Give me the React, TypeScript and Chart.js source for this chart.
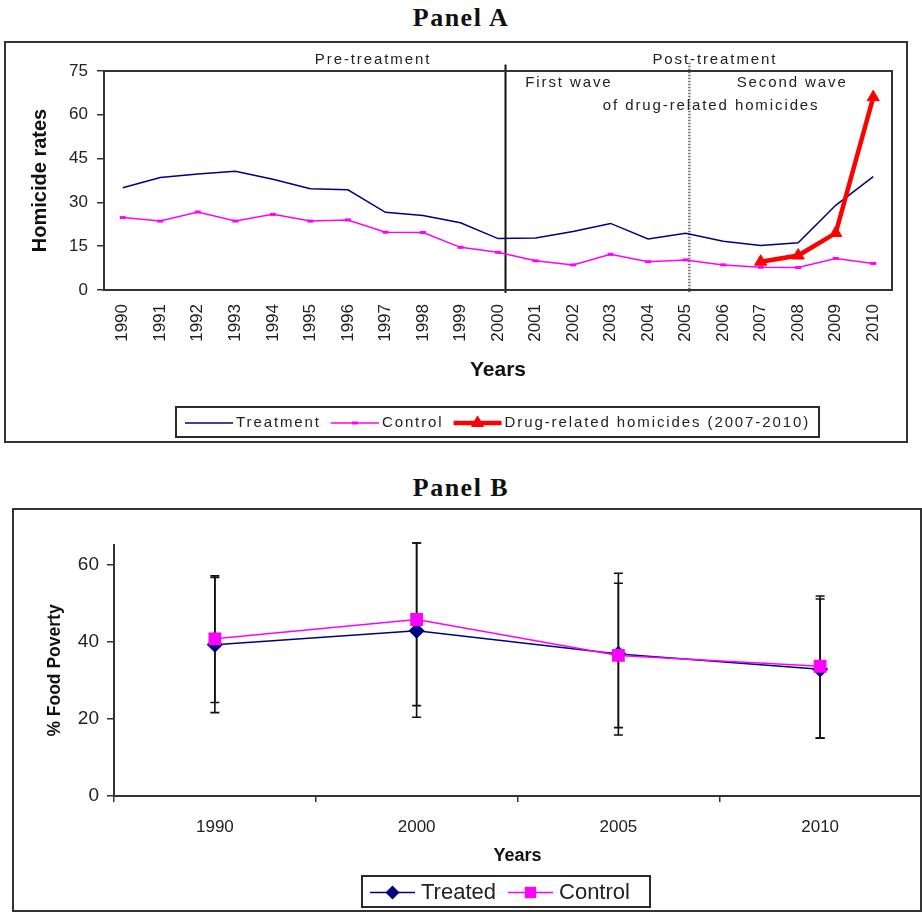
import React, { useEffect, useRef } from 'react';
import { Chart, registerables } from 'chart.js';

Chart.register(...registerables);

const SANS = '"Liberation Sans", Arial, sans-serif';
const SERIF = '"Liberation Serif", "Times New Roman", serif';
const INK = '#222';

// ---------- Panel A: homicide rates ----------
const yearsA = [
  '1990', '1991', '1992', '1993', '1994', '1995', '1996', '1997', '1998', '1999', '2000',
  '2001', '2002', '2003', '2004', '2005', '2006', '2007', '2008', '2009', '2010',
];
const treatmentRates = [
  35.0, 38.5, 39.7, 40.7, 37.9, 34.7, 34.3, 26.6, 25.5, 23.0, 17.6,
  17.8, 20.0, 22.8, 17.5, 19.4, 16.7, 15.2, 16.2, 29.0, 38.8,
];
const controlRates = [
  24.8, 23.6, 26.7, 23.6, 25.9, 23.6, 24.0, 19.8, 19.7, 14.6, 12.9,
  10.0, 8.6, 12.2, 9.7, 10.3, 8.6, 7.8, 7.7, 10.8, 9.1,
];
const drugRelatedRates: (number | null)[] = [
  null, null, null, null, null, null, null, null, null, null, null,
  null, null, null, null, null, null, 9.7, 11.8, 19.5, 66.0,
];
const homicideTicks = [0, 15, 30, 45, 60, 75];

// period labels and where the treatment / wave boundaries fall (category index)
const periodNotes = ['Pre-treatment', 'Post-treatment', 'First wave', 'Second wave', 'of drug-related homicides'];
const treatmentStart = 10.2;
const secondWaveStart = 15.1;

// ---------- Panel B: food poverty ----------
const censusYears = ['1990', '2000', '2005', '2010'];
const treatedPoverty = [39.2, 42.8, 36.8, 32.8];
const treatedLow = [21.6, 20.4, 15.8, 15.0];
const treatedHigh = [56.6, 65.5, 57.7, 51.8];
const controlPoverty = [40.7, 45.7, 36.4, 33.6];
const controlLow = [24.2, 23.4, 17.7, 15.0];
const controlHigh = [57.0, 65.5, 55.1, 51.0];
const povertyTicks = [0, 20, 40, 60];

// ---------- drawing helpers ----------
function drawMarker(ctx: CanvasRenderingContext2D, style: string, x: number, y: number, r: number, color: string, lw: number) {
  if (!r) return;
  ctx.save();
  ctx.fillStyle = color;
  ctx.strokeStyle = color;
  ctx.lineWidth = lw;
  ctx.beginPath();
  if (style === 'triangle') {
    ctx.moveTo(x, y - r);
    ctx.lineTo(x + r * 0.866, y + r * 0.5);
    ctx.lineTo(x - r * 0.866, y + r * 0.5);
    ctx.closePath();
    ctx.fill();
    ctx.stroke();
  } else if (style === 'rectRot') {
    ctx.moveTo(x, y - r);
    ctx.lineTo(x + r, y);
    ctx.lineTo(x, y + r);
    ctx.lineTo(x - r, y);
    ctx.closePath();
    ctx.fill();
  } else if (style === 'rect') {
    const s = r * Math.SQRT1_2;
    ctx.rect(x - s, y - s, 2 * s, 2 * s);
    ctx.fill();
  } else if (style === 'line') {
    ctx.moveTo(x - r, y);
    ctx.lineTo(x + r, y);
    ctx.stroke();
  }
  ctx.restore();
}

type LegendBox = { x: number; y: number; w: number; h: number; font: string; spacing: string; pad: number; sample: number; textGap: number; itemGap: number };

function drawBoxLegend(chart: Chart, box: LegendBox) {
  const ctx = chart.ctx;
  ctx.save();
  ctx.lineWidth = 2;
  ctx.strokeStyle = '#2a2a2a';
  ctx.strokeRect(box.x, box.y, box.w, box.h);
  ctx.font = box.font;
  (ctx as any).letterSpacing = box.spacing;
  ctx.textBaseline = 'middle';
  ctx.textAlign = 'left';
  const cy = box.y + box.h / 2 + 1;
  let cx = box.x + box.pad;
  chart.data.datasets.forEach((ds: any) => {
    ctx.strokeStyle = ds.borderColor;
    ctx.lineWidth = ds.borderWidth;
    ctx.beginPath();
    ctx.moveTo(cx, cy);
    ctx.lineTo(cx + box.sample, cy);
    ctx.stroke();
    drawMarker(ctx, ds.pointStyle, cx + box.sample / 2, cy, ds.pointRadius, ds.pointBorderColor || ds.borderColor, ds.pointBorderWidth || 1);
    cx += box.sample + box.textGap;
    ctx.fillStyle = INK;
    ctx.fillText(ds.label, cx, cy);
    cx += ctx.measureText(ds.label).width + box.itemGap;
  });
  ctx.restore();
}

function drawFrame(chart: Chart) {
  const ctx = chart.ctx;
  ctx.save();
  ctx.lineWidth = 2;
  ctx.strokeStyle = '#333';
  ctx.strokeRect(1, 1, chart.width - 2, chart.height - 2);
  ctx.restore();
}

// keep the category axis spanning the full chart area
const noSidePadding = (s: any, height: number) => {
  s.height = height;
  s.paddingLeft = 0;
  s.paddingRight = 0;
};

// ---------- Panel A plugin: frame, plot box, boundaries, notes, legend ----------
const homicidePlugin = {
  id: 'homicideDecor',
  beforeDatasetsDraw(chart: Chart) {
    const { ctx } = chart;
    const x = chart.scales.x;
    const y = chart.scales.y;
    const top = y.getPixelForValue(77.2);
    const bottom = y.getPixelForValue(-1);
    ctx.save();
    const xs = x.getPixelForValue(treatmentStart);
    ctx.strokeStyle = '#111';
    ctx.lineWidth = 2;
    ctx.beginPath();
    ctx.moveTo(xs, top);
    ctx.lineTo(xs, bottom);
    ctx.stroke();
    const xd = x.getPixelForValue(secondWaveStart);
    ctx.strokeStyle = '#777';
    ctx.lineWidth = 2.5;
    ctx.setLineDash([1.5, 1.5]);
    ctx.beginPath();
    ctx.moveTo(xd, y.getPixelForValue(77.8));
    ctx.lineTo(xd, bottom);
    ctx.stroke();
    ctx.restore();
  },
  afterDraw(chart: Chart) {
    const { ctx, chartArea } = chart;
    const x = chart.scales.x;
    const y = chart.scales.y;
    drawFrame(chart);
    ctx.save();
    ctx.lineWidth = 2;
    ctx.strokeStyle = '#333';
    ctx.strokeRect(chartArea.left, chartArea.top, chartArea.right - chartArea.left, chartArea.bottom - chartArea.top);

    ctx.font = `15px ${SANS}`;
    (ctx as any).letterSpacing = '1.9px';
    ctx.fillStyle = INK;
    ctx.textAlign = 'center';
    ctx.textBaseline = 'middle';
    const notePlaces: [number, number][] = [[6.67, 78.8], [15.78, 78.8], [11.89, 70.9], [17.84, 70.9], [15.68, 63.0]];
    periodNotes.forEach((t, i) => {
      const [ci, v] = notePlaces[i];
      ctx.fillText(t, x.getPixelForValue(ci), y.getPixelForValue(v));
    });
    ctx.restore();

    drawBoxLegend(chart, {
      x: 172, y: 366, w: 643, h: 30, font: `15px ${SANS}`, spacing: '1.9px',
      pad: 9, sample: 48, textGap: 3, itemGap: 10,
    });
  },
};

// ---------- Panel B plugin: frame, error bars, legend ----------
const povertyBars = [[treatedLow, treatedHigh], [controlLow, controlHigh]];
const povertyPlugin = {
  id: 'povertyDecor',
  beforeDatasetsDraw(chart: Chart) {
    const { ctx } = chart;
    const x = chart.scales.x;
    const y = chart.scales.y;
    ctx.save();
    ctx.strokeStyle = '#111';
    ctx.lineWidth = 1.6;
    povertyBars.forEach(([lo, hi]) => {
      lo.forEach((l, i) => {
        const px = x.getPixelForValue(i);
        const pl = y.getPixelForValue(l);
        const ph = y.getPixelForValue(hi[i]);
        ctx.beginPath();
        ctx.moveTo(px, pl);
        ctx.lineTo(px, ph);
        ctx.moveTo(px - 4.5, pl);
        ctx.lineTo(px + 4.5, pl);
        ctx.moveTo(px - 4.5, ph);
        ctx.lineTo(px + 4.5, ph);
        ctx.stroke();
      });
    });
    ctx.restore();
  },
  afterDraw(chart: Chart) {
    drawFrame(chart);
    drawBoxLegend(chart, {
      x: 350, y: 368, w: 288, h: 31, font: `22px ${SANS}`, spacing: '0px',
      pad: 8, sample: 45, textGap: 6, itemGap: 12,
    });
  },
};

function homicideConfig(): any {
  return {
    type: 'line',
    data: {
      labels: yearsA,
      datasets: [
        { label: 'Treatment', data: treatmentRates, borderColor: '#000080', borderWidth: 1.5, pointRadius: 0, order: 1 },
        {
          label: 'Control', data: controlRates, borderColor: '#ff00ff', borderWidth: 1.5,
          pointStyle: 'line', pointRadius: 3, pointBorderWidth: 3, pointBorderColor: '#ff00ff', order: 2,
        },
        {
          label: 'Drug-related homicides (2007-2010)', data: drugRelatedRates, borderColor: '#ff0000', borderWidth: 4.5,
          pointStyle: 'triangle', pointRadius: 7, pointBackgroundColor: '#ff0000', pointBorderColor: '#ff0000',
          pointBorderWidth: 1, order: 0,
        },
      ],
    },
    options: {
      responsive: false,
      animation: false,
      layout: { autoPadding: false, padding: { top: 30, right: 16, left: 0, bottom: 53 } },
      plugins: { legend: { display: false }, tooltip: { enabled: false } },
      scales: {
        x: {
          offset: true,
          grid: { display: false },
          border: { display: false },
          ticks: { minRotation: 90, maxRotation: 90, autoSkip: false, padding: 6, color: INK, font: { family: SANS, size: 17 } },
          title: { display: true, text: 'Years', color: '#111', font: { family: SANS, size: 21, weight: 'bold' }, padding: { top: 0, bottom: 7 } },
          afterFit: (s: any) => noSidePadding(s, 100),
        },
        y: {
          min: 0,
          max: 75,
          afterBuildTicks: (s: any) => { s.ticks = homicideTicks.map((v) => ({ value: v })); },
          ticks: { padding: 9, color: INK, font: { family: SANS, size: 17 } },
          grid: { drawOnChartArea: false, tickLength: 7, color: '#333', lineWidth: 1.5 },
          border: { display: false },
          title: { display: true, text: 'Homicide rates', color: '#111', font: { family: SANS, size: 20, weight: 'bold' }, padding: { top: 24, bottom: 0 } },
          afterFit: (s: any) => { s.width = 100; },
        },
      },
    },
    plugins: [homicidePlugin],
  };
}

function povertyConfig(): any {
  return {
    type: 'line',
    data: {
      labels: censusYears,
      datasets: [
        {
          label: 'Treated', data: treatedPoverty, borderColor: '#000080', borderWidth: 1.5,
          pointStyle: 'rectRot', pointRadius: 7, pointBackgroundColor: '#000080', pointBorderColor: '#000080', order: 1,
        },
        {
          label: 'Control', data: controlPoverty, borderColor: '#ff00ff', borderWidth: 1.5,
          pointStyle: 'rect', pointRadius: 8, pointBackgroundColor: '#ff00ff', pointBorderColor: '#ff00ff', order: 0,
        },
      ],
    },
    options: {
      responsive: false,
      animation: false,
      layout: { autoPadding: false, padding: { top: 37, right: 1, left: 0, bottom: 36 } },
      plugins: { legend: { display: false }, tooltip: { enabled: false } },
      scales: {
        x: {
          offset: true,
          grid: { offset: true, drawOnChartArea: false, tickLength: 6, color: '#333', lineWidth: 1.5 },
          border: { display: true, color: '#333', width: 2 },
          ticks: { padding: 15, color: INK, font: { family: SANS, size: 17 } },
          title: { display: true, text: 'Years', color: '#111', font: { family: SANS, size: 18, weight: 'bold' }, padding: { top: 0, bottom: 9 } },
          afterFit: (s: any) => noSidePadding(s, 80),
        },
        y: {
          min: 0,
          max: 65,
          afterBuildTicks: (s: any) => { s.ticks = povertyTicks.map((v) => ({ value: v })); },
          ticks: { padding: 8, color: INK, font: { family: SANS, size: 19 } },
          grid: { drawOnChartArea: false, tickLength: 7, color: '#333', lineWidth: 1.5 },
          border: { display: true, color: '#333', width: 2 },
          title: { display: true, text: '% Food Poverty', color: '#111', font: { family: SANS, size: 17.5, weight: 'bold' }, padding: { top: 33, bottom: 0 } },
          afterFit: (s: any) => { s.width = 102; },
        },
      },
    },
    plugins: [povertyPlugin],
  };
}

export default function App() {
  const refA = useRef<HTMLCanvasElement>(null);
  const refB = useRef<HTMLCanvasElement>(null);

  useEffect(() => {
    const a = new Chart(refA.current!, homicideConfig());
    const b = new Chart(refB.current!, povertyConfig());
    return () => {
      a.destroy();
      b.destroy();
    };
  }, []);

  const titleStyle: React.CSSProperties = {
    position: 'absolute', left: 0, width: 922, textAlign: 'center',
    font: `bold 26px ${SERIF}`, color: '#111', lineHeight: '30px', letterSpacing: '1.5px',
  };

  return (
    <div style={{ position: 'absolute', left: 0, top: 0, width: 922, height: 912, background: '#fff', overflow: 'hidden' }}>
      <div style={{ ...titleStyle, top: 3 }}>Panel A</div>
      <canvas ref={refA} width={904} height={402} style={{ position: 'absolute', left: 4, top: 41 }} />
      <div style={{ ...titleStyle, top: 473 }}>Panel B</div>
      <canvas ref={refB} width={910} height={404} style={{ position: 'absolute', left: 12, top: 508 }} />
    </div>
  );
}
